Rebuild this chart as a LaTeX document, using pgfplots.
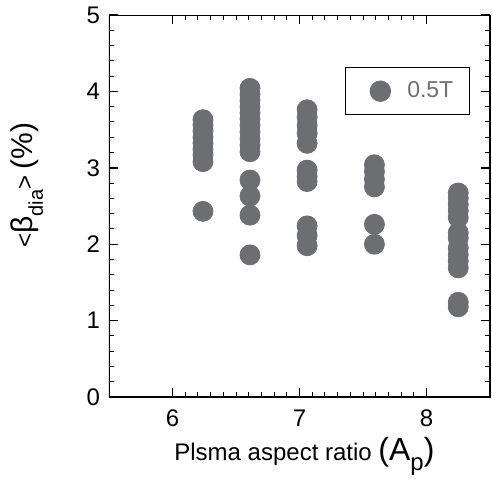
\documentclass[border=0pt]{standalone}
\usepackage{fontspec}
\setmainfont{Liberation Sans}
\usepackage{pgfplots}
\pgfplotsset{compat=1.18}
\definecolor{dotgray}{HTML}{6D6E72}
\begin{document}
\begin{tikzpicture}
\begin{axis}[
  name=ax,
  scale only axis,
  width=190.5pt, height=191pt,
  xmin=5.5, xmax=8.5, ymin=0, ymax=5,
  xtick={6,7,8}, ytick={0,1,2,3,4,5},
  xticklabels={6,7,8}, yticklabels={0,1,2,3,4,5},
  minor x tick num=9, minor y tick num=4,
  tick align=inside,
  major tick length=4.5pt, minor tick length=2.5pt,
  major tick style={black, line width=0.7pt},
  minor tick style={black, line width=0.5pt},
  tick label style={font=\fontsize{12}{14}\selectfont},
  yticklabel style={xshift=-1pt},
  xticklabel style={yshift=-3pt},
  xlabel={Plsma aspect ratio {\fontsize{16}{16}\selectfont(A\raisebox{-5pt}{\fontsize{12}{12}\selectfont p})}},
  xlabel style={at={(axis description cs:0.513,-0.165)}, anchor=base, font=\fontsize{12}{14}\selectfont},
  ylabel={<{\fontsize{15}{15}\selectfont β}\raisebox{-5pt}{\fontsize{10}{10}\selectfont dia}> {\fontsize{15}{15}\selectfont(\%)}},
  ylabel style={at={(axis description cs:-0.215,0.555)}, anchor=center, font=\fontsize{12}{14}\selectfont},
  legend image code/.code={\path (0cm,0cm) (0.78cm,0cm); \draw[#1] plot coordinates {(0.39cm,0cm)};},
  legend style={at={(rel axis cs:0.9475,0.864)}, anchor=north east,
    draw=black, line width=0.7pt, text=dotgray,
    font=\fontsize{11.5}{14}\selectfont,
    inner xsep=6pt, inner ysep=5pt},
]
\addplot[only marks, mark=*, mark size=5pt, color=dotgray, mark options={draw=none, fill=dotgray}]
  coordinates {
    (6.24,3.63)(6.24,3.56)(6.24,3.48)(6.24,3.40)(6.24,3.32)(6.24,3.24)(6.24,3.17)(6.24,3.08)(6.24,2.43)
    (6.61,4.04)(6.61,3.96)(6.61,3.88)(6.61,3.80)(6.61,3.72)(6.61,3.64)(6.61,3.56)(6.61,3.47)
    (6.61,3.38)(6.61,3.30)(6.61,3.21)(6.61,2.84)(6.61,2.63)(6.61,2.38)(6.61,1.86)
    (7.06,3.76)(7.06,3.66)(7.06,3.55)(7.06,3.45)(7.06,3.32)(7.06,2.97)(7.06,2.89)(7.06,2.82)
    (7.06,2.24)(7.06,2.11)(7.06,1.98)
    (7.59,3.04)(7.59,2.95)(7.59,2.85)(7.59,2.75)(7.59,2.26)(7.59,2.00)
    (8.25,2.67)(8.25,2.60)(8.25,2.52)(8.25,2.44)(8.25,2.35)(8.25,2.15)(8.25,2.08)(8.25,1.95)
    (8.25,1.86)(8.25,1.78)(8.25,1.69)(8.25,1.24)(8.25,1.18)
  };
\addlegendentry{0.5T}
% heavier frame, as in the original
\draw[line width=0.7pt] (rel axis cs:0,0) rectangle (rel axis cs:1,1);
\end{axis}
\pgfresetboundingbox
\path[use as bounding box] (ax.south west) ++(-54.5pt,-42.5pt) rectangle ++(246pt,241pt);
\end{tikzpicture}
\end{document}
